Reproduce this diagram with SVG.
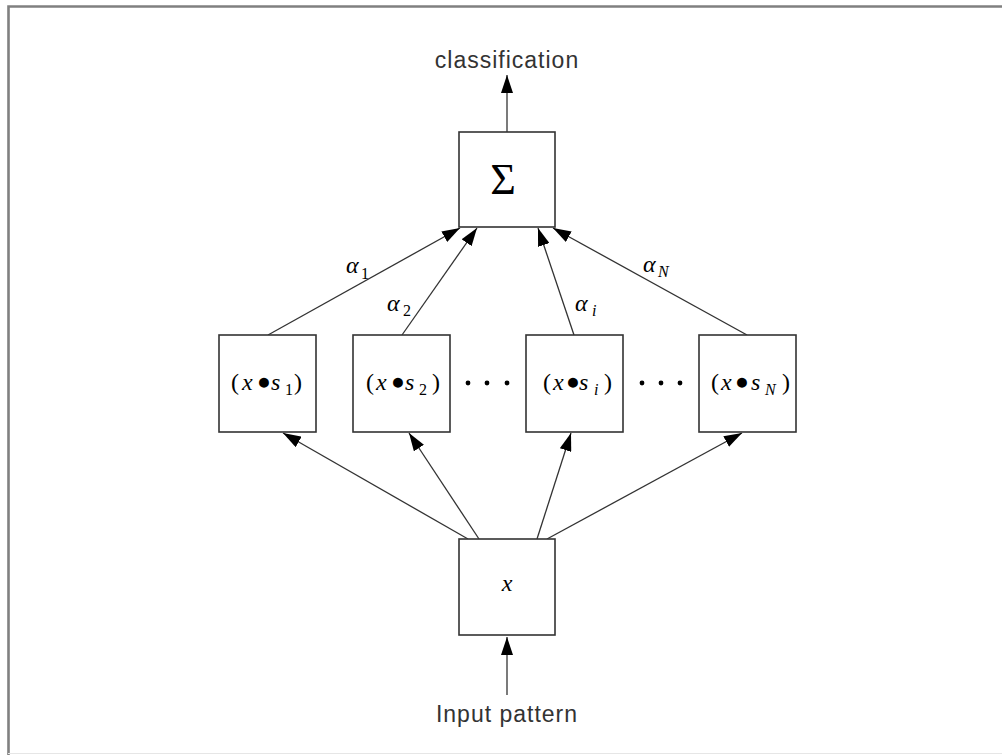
<svg xmlns="http://www.w3.org/2000/svg" width="1002" height="755" viewBox="0 0 1002 755">
<defs>
<style>
.box{fill:#fff;stroke:#333;stroke-width:1.6}
.edge{fill:none;stroke:#333;stroke-width:1.3}
.sans{font-family:"Liberation Sans",Arial,sans-serif;font-size:23px;letter-spacing:1px;fill:#333}
.math{font-family:"Liberation Serif","DejaVu Serif","Times New Roman",serif;font-size:24px;fill:#000}
.it{font-style:italic}
.sub{font-size:16px}
.big{font-size:44px}
.dot{font-size:23px}
</style>
<marker id="ah" markerWidth="18" markerHeight="12" refX="18" refY="6" orient="auto" markerUnits="userSpaceOnUse">
<path d="M0,0 L18,6 L0,12 z" fill="#000"/>
</marker>
</defs>
<rect x="0" y="0" width="1002" height="755" fill="#fff"/>
<polyline points="8.5,755 8.5,6.5 1002,6.5" fill="none" stroke="#808080" stroke-width="2.6"/>
<line x1="8" y1="753.5" x2="1002" y2="753.5" stroke="#e6e6e6" stroke-width="1"/>

<g id="connectors">
<line class="edge" x1="507" y1="132" x2="507" y2="75" marker-end="url(#ah)"/>
<line class="edge" x1="268" y1="335" x2="460" y2="228" marker-end="url(#ah)"/>
<line class="edge" x1="402" y1="335" x2="477" y2="228" marker-end="url(#ah)"/>
<line class="edge" x1="574" y1="335" x2="538" y2="228" marker-end="url(#ah)"/>
<line class="edge" x1="747" y1="335" x2="553" y2="228" marker-end="url(#ah)"/>
<line class="edge" x1="468" y1="539" x2="283" y2="433" marker-end="url(#ah)"/>
<line class="edge" x1="479" y1="539" x2="409" y2="433" marker-end="url(#ah)"/>
<line class="edge" x1="537" y1="539" x2="571" y2="433" marker-end="url(#ah)"/>
<line class="edge" x1="547" y1="539" x2="742" y2="433" marker-end="url(#ah)"/>
<line class="edge" x1="507" y1="695" x2="507" y2="637" marker-end="url(#ah)"/>
<text class="math"><tspan class="it" x="346" y="273">α</tspan><tspan class="sub" x="361" y="279">1</tspan></text>
<text class="math"><tspan class="it" x="387" y="311">α</tspan><tspan class="sub" x="403" y="316">2</tspan></text>
<text class="math"><tspan class="it" x="575" y="311">α</tspan><tspan class="sub it" x="592" y="316">i</tspan></text>
<text class="math"><tspan class="it" x="643" y="272">α</tspan><tspan class="sub it" x="658" y="277">N</tspan></text>
</g>

<g id="classification">
<text class="sans" x="507" y="68" text-anchor="middle">classification</text>
</g>

<g id="sum">
<rect class="box" x="459" y="132" width="96" height="95"/>
<text class="math big" x="503" y="194" text-anchor="middle">Σ</text>
</g>

<g id="node1">
<rect class="box" x="219" y="335" width="97" height="97"/>
<text class="math"><tspan x="231" y="390">(</tspan><tspan class="it" x="242" y="390">x</tspan><tspan class="dot" x="257" y="389">●</tspan><tspan class="it" x="271" y="390">s</tspan><tspan class="sub" x="285" y="395">1</tspan><tspan x="294" y="390">)</tspan></text>
</g>

<g id="node2">
<rect class="box" x="353" y="335" width="97" height="97"/>
<text class="math"><tspan x="366" y="390">(</tspan><tspan class="it" x="376" y="390">x</tspan><tspan class="dot" x="391" y="389">●</tspan><tspan class="it" x="405" y="390">s</tspan><tspan class="sub" x="419" y="395">2</tspan><tspan x="432" y="390">)</tspan></text>
</g>

<g id="dots1">
<circle cx="468" cy="383" r="2.4" fill="#000"/>
<circle cx="487" cy="383" r="2.4" fill="#000"/>
<circle cx="507" cy="383" r="2.4" fill="#000"/>
</g>

<g id="node3">
<rect class="box" x="526" y="335" width="97" height="97"/>
<text class="math"><tspan x="543" y="390">(</tspan><tspan class="it" x="553" y="390">x</tspan><tspan class="dot" x="566" y="389">●</tspan><tspan class="it" x="579" y="390">s</tspan><tspan class="sub it" x="594" y="395">i</tspan><tspan x="604" y="390">)</tspan></text>
</g>

<g id="dots2">
<circle cx="642" cy="383" r="2.4" fill="#000"/>
<circle cx="661" cy="383" r="2.4" fill="#000"/>
<circle cx="680" cy="383" r="2.4" fill="#000"/>
</g>

<g id="node4">
<rect class="box" x="699" y="335" width="97" height="97"/>
<text class="math"><tspan x="711" y="390">(</tspan><tspan class="it" x="721" y="390">x</tspan><tspan class="dot" x="735" y="389">●</tspan><tspan class="it" x="751" y="390">s</tspan><tspan class="sub it" x="765" y="395">N</tspan><tspan x="782" y="390">)</tspan></text>
</g>

<g id="input">
<rect class="box" x="459" y="539" width="96" height="96"/>
<text class="math it" x="507" y="591" text-anchor="middle">x</text>
</g>

<g id="input-label">
<text class="sans" x="507" y="722" text-anchor="middle">Input pattern</text>
</g>
</svg>
